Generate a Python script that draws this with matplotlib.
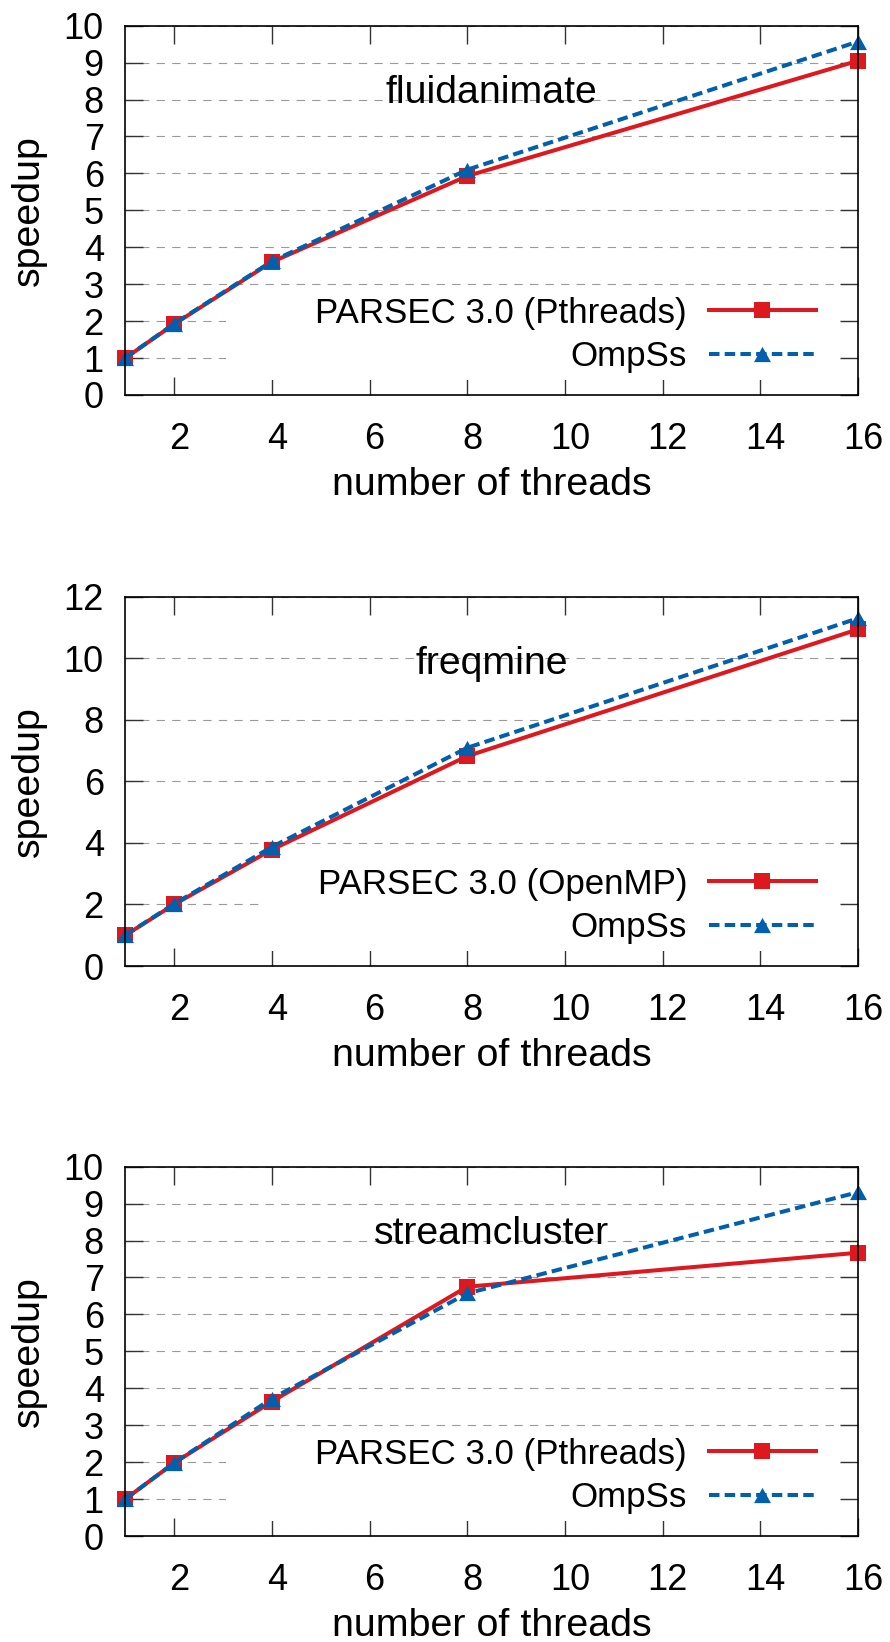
import matplotlib
matplotlib.use('Agg')
import matplotlib.pyplot as plt
from matplotlib.patches import Rectangle
import matplotlib.transforms as mtransforms

plt.rcParams['font.family'] = ['Liberation Sans', 'DejaVu Sans']

# ---------------- data ----------------
threads = [1, 2, 4, 8, 16]

fluid_pthreads = [1.0, 1.92, 3.60, 5.93, 9.05]
fluid_ompss = [1.0, 1.93, 3.62, 6.10, 9.57]

freq_openmp = [1.0, 2.00, 3.78, 6.82, 10.94]
freq_ompss = [1.0, 2.02, 3.87, 7.09, 11.30]

stream_pthreads = [1.0, 1.98, 3.64, 6.75, 7.67]
stream_ompss = [1.0, 1.98, 3.72, 6.57, 9.31]

titles = ['fluidanimate', 'freqmine', 'streamcluster']
base_labels = ['PARSEC 3.0 (Pthreads)', 'PARSEC 3.0 (OpenMP)', 'PARSEC 3.0 (Pthreads)']
ompss_label = 'OmpSs'
base_series = [fluid_pthreads, freq_openmp, stream_pthreads]
ompss_series = [fluid_ompss, freq_ompss, stream_ompss]
y_max = [10, 12, 10]
y_step = [1, 2, 1]
x_ticks = [2, 4, 6, 8, 10, 12, 14, 16]
x_label = 'number of threads'
y_label = 'speedup'

# ---------------- style ----------------
RED = '#dd181f'
BLUE = '#0060ad'
W, H, DPI = 890, 1642, 100

fig = plt.figure(figsize=(W / DPI, H / DPI), dpi=DPI)

ax_left_px, ax_right_px = 125.3, 858.0
panel_tops = [25.7, 596.7, 1166.7]
panel_h = 369.3
box_left = [0.138, 0.188, 0.138]

tri = [(0, 0.9), (-1, -0.9), (1, -0.9)]

for i in range(3):
    top = panel_tops[i]
    ax = fig.add_axes([ax_left_px / W, 1 - (top + panel_h) / H,
                       (ax_right_px - ax_left_px) / W, panel_h / H])
    ax.plot(threads, base_series[i], color=RED, lw=2.9, marker='s', ms=11.5,
            mew=0, label=base_labels[i], zorder=3, clip_on=False)
    ax.plot(threads, ompss_series[i], color=BLUE, lw=2.9, ls=(0, (2.6, 1.3)),
            marker=tri, ms=12.2, mew=0, label=ompss_label, zorder=4,
            clip_on=False)

    ax.set_xlim(1, 16)
    ax.set_ylim(0, y_max[i])
    ax.set_xticks(x_ticks)
    ax.set_yticks(list(range(0, y_max[i] + 1, y_step[i])))

    ax.set_axisbelow(True)
    ax.grid(axis='y', color='#9a9a9a', lw=0.8, ls=(0, (7.5, 6.5)))
    ax.add_patch(Rectangle((box_left[i], 0.04), 0.969 - box_left[i], 0.23,
                           transform=ax.transAxes, facecolor='white',
                           edgecolor='none', zorder=1))

    for s in ax.spines.values():
        s.set_linewidth(1.2)
        s.set_color('black')
        s.set_zorder(5)
    ax.tick_params(axis='both', which='major', direction='in', length=13,
                   width=1.0, color='#333333', labelsize=26,
                   top=True, right=True)
    ax.tick_params(axis='x', pad=19.5)
    ax.tick_params(axis='y', pad=15.5)

    ax.text(0.5, 0.79, titles[i], transform=ax.transAxes, ha='center',
            va='baseline', fontsize=28.3, zorder=5)

    ax.set_xlabel(x_label, fontsize=28.4)
    ax.xaxis.set_label_coords(0.5, -0.195)
    ax.set_ylabel(y_label, fontsize=28.4)
    ax.yaxis.set_label_coords(-0.1064, 0.5)

    leg = ax.legend(loc='center right', bbox_to_anchor=(0.9427, 0.163),
                    bbox_transform=ax.transAxes, markerfirst=False,
                    frameon=False, borderpad=0, fontsize=25.1,
                    handlelength=3.08, handletextpad=0.62,
                    labelspacing=0.3, borderaxespad=0)
    leg.set_zorder(6)

    offset = mtransforms.ScaledTranslation(5 / DPI, 0, fig.dpi_scale_trans)
    for lab in ax.get_xticklabels():
        lab.set_transform(lab.get_transform() + offset)

fig.savefig('out.png', dpi=DPI)
